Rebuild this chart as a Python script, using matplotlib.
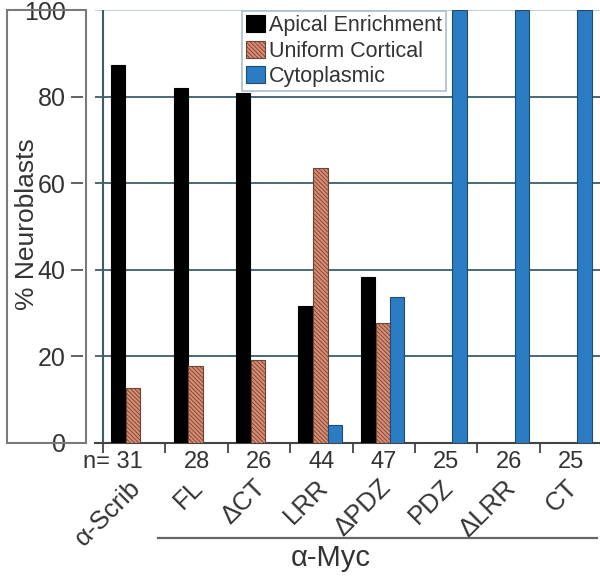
"""
Neuroblast localisation of Scrib constructs, recreated with matplotlib.
"""

import matplotlib
matplotlib.use("Agg")
import matplotlib.pyplot as plot
from matplotlib.patches import Rectangle
from matplotlib.lines import Line2D
from matplotlib import font_manager
import numpy

plot.rcParams["font.family"] = ["Liberation Sans", "DejaVu Sans"]
plot.rcParams["hatch.linewidth"] = 0.6

categories = ["\u03b1-Scrib", "FL", "\u0394CT", "LRR", "\u0394PDZ", "PDZ", "\u0394LRR", "CT"]
counts = [31, 28, 26, 44, 47, 25, 26, 25]
apical = [87.3, 82.0, 80.8, 31.6, 38.3, 0, 0, 0]
uniform = [12.7, 17.8, 19.2, 63.5, 27.7, 0, 0, 0]
cytoplasmic = [0, 0, 0, 4.2, 33.7, 100, 100, 100]
y_ticks = [0, 20, 40, 60, 80, 100]

names = {f.name for f in font_manager.fontManager.ttflist}
narrow = ["Liberation Sans Narrow", "Liberation Sans"] if "Liberation Sans Narrow" in names \
  else ["Liberation Sans"]

W, H = 600, 576
figure = plot.figure(figsize=(6, 5.76), dpi=100)

# axes: left edge at 95px, group 0 starts at 103px, 62.4px per group
group_px = 62.4
left_px, bottom_px, top_px = 95, 443, 10
x_min = -(103 - left_px) / group_px
x_max = 8.0
axes = figure.add_axes([left_px / W, (H - bottom_px) / H,
                        (x_max - x_min) * group_px / W, (bottom_px - top_px) / H])

for side in ["right", "top"]:
  axes.spines[side].set_visible(False)
axes.spines["left"].set_position(("outward", 9))
axes.spines["left"].set_visible(False)
axes.spines["bottom"].set_color("#444444")
axes.spines["bottom"].set_linewidth(1.5)

x = numpy.arange(len(categories))
width = 0.23
axes.bar(x + 0.13, apical, width, align="edge", color="black", edgecolor="black",
         linewidth=0.8, label="Apical Enrichment", zorder=3)
axes.bar(x + 0.37, uniform, width, align="edge", color="#dc8b70", edgecolor="#6e4438",
         hatch="\\" * 8, linewidth=0.8, label="Uniform Cortical", zorder=3)
axes.bar(x + 0.60, cytoplasmic, width, align="edge", color="#2b7cc2", edgecolor="#1d4b73",
         linewidth=0.8, label="Cytoplasmic", zorder=3)

axes.set_xlim(x_min, x_max)
axes.set_ylim(0, 100)
axes.set_yticks(y_ticks)
axes.set_yticklabels([str(v) for v in y_ticks])
axes.set_xticks(numpy.arange(0, 9))
axes.set_xticklabels([])
axes.tick_params(axis="y", direction="out", length=9, width=1.3, color="#555555",
                 pad=3, labelsize=18, labelcolor="#333333")
axes.tick_params(axis="x", direction="out", length=7, width=1.3, color="#444444")

axes.yaxis.grid(True, color="#3d5d6b", linewidth=1.3)
axes.get_ygridlines()[-1].set_color("#b9ccd4")
axes.set_axisbelow(True)
axes.axvline(0, color="#3d5d6b", linewidth=1.5, zorder=2)

# box around the y tick labels and axis title
figure.add_artist(Rectangle((7 / W, (H - bottom_px) / H), 79 / W, (bottom_px - top_px) / H,
                            transform=figure.transFigure, fill=False,
                            edgecolor="#7a7a7a", linewidth=1.5))
figure.text(27 / W, 1 - 224 / H, "% Neuroblasts", rotation=90, ha="center", va="center",
            fontsize=19, color="#333333")

# n counts and rotated construct names under each group
for i, (name, n) in enumerate(zip(categories, counts)):
  if i == 0:
    axes.annotate("n= {}".format(n), xy=(i + 0.5, 0), xycoords=("data", "axes fraction"),
                  xytext=(9, -19), textcoords="offset pixels", family=narrow,
                  ha="right", va="center", fontsize=17, color="#333333")
  else:
    axes.annotate(str(n), xy=(i + 0.5, 0), xycoords=("data", "axes fraction"),
                  xytext=(0, -19), textcoords="offset pixels", family=narrow,
                  ha="center", va="center", fontsize=17, color="#333333")
  axes.annotate(name, xy=(i + 0.5, 0), xycoords=("data", "axes fraction"),
                xytext=(3, -41), textcoords="offset pixels", rotation=45,
                rotation_mode="anchor", ha="right", va="center",
                fontsize=18.5, color="#333333")

# bracket for the alpha-Myc constructs
figure.add_artist(Line2D([158 / W, 597 / W], [1 - 538 / H, 1 - 538 / H],
                         transform=figure.transFigure, color="#666666", linewidth=1.6))
figure.text(331 / W, 1 - 558 / H, "\u03b1-Myc", ha="center", va="center",
            fontsize=21, color="#333333")

legend = axes.legend(loc="upper left", bbox_to_anchor=(242 / W, 1 - 11 / H),
                     bbox_transform=figure.transFigure, borderaxespad=0,
                     fontsize=15.5, handlelength=0.85, handleheight=0.85,
                     handletextpad=0.2, labelspacing=0.2, borderpad=0.2,
                     fancybox=False, framealpha=1, edgecolor="#a9c0cc")
legend.get_frame().set_linewidth(1.2)
for text in legend.get_texts():
  text.set_color("#333333")

figure.savefig("out.png", dpi=100)
plot.close()
